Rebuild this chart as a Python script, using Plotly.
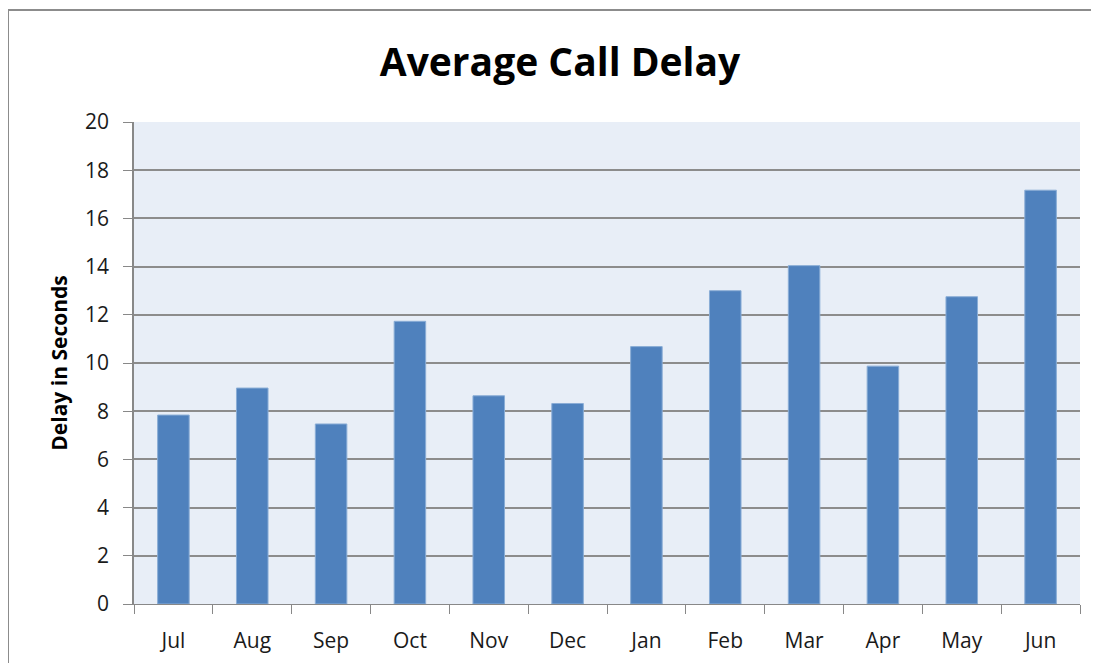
import plotly.graph_objects as go

months = ["Jul", "Aug", "Sep", "Oct", "Nov", "Dec", "Jan", "Feb", "Mar", "Apr", "May", "Jun"]
delay_seconds = [7.84, 8.96, 7.47, 11.73, 8.64, 8.32, 10.68, 13.0, 14.04, 9.87, 12.75, 17.17]
y_ticks = [0, 2, 4, 6, 8, 10, 12, 14, 16, 18, 20]

# page body has an 8px margin, so the figure is sized/placed to compensate
W, H = 1091, 655
ML, MR, MT, MB = 126, 19, 114, 59
pw, ph = W - ML - MR, H - MT - MB

fig = go.Figure(go.Bar(
    x=months, y=delay_seconds,
    marker=dict(color="#4F81BD", line=dict(color="#8AADD6", width=1)),
    hoverinfo="x+y",
))

fig.update_layout(
    width=W, height=H,
    margin=dict(l=ML, r=MR, t=MT, b=MB),
    paper_bgcolor="white", plot_bgcolor="#E8EEF7",
    bargap=0.6,
    showlegend=False,
    font=dict(family="Open Sans, Noto Sans, sans-serif", color="#1a1a1a"),
    title=dict(text="<b>Average Call Delay</b>", x=(560 - 8) / W, xanchor="center",
               y=1 - 54 / H, yanchor="middle",
               font=dict(size=39, color="black", family="Open Sans, sans-serif")),
)
fig.update_xaxes(
    showgrid=False, showline=True, linecolor="#888888", linewidth=1,
    ticks="outside", tickson="boundaries", ticklen=9, tickcolor="#888888",
    tickfont=dict(size=21), ticklabelstandoff=18, automargin=False,
)
fig.update_yaxes(
    range=[0, 20], tickvals=y_ticks, showgrid=True, gridcolor="#8C8C8C", gridwidth=1.5,
    showline=True, linecolor="#888888", linewidth=1.5,
    ticks="outside", ticklen=9, tickcolor="#888888",
    tickfont=dict(size=21), zeroline=False, ticklabelstandoff=10,
    title=dict(text="<b>Delay in Seconds</b>", font=dict(size=21, color="black"), standoff=12),
)

# outer chart frame
fx0 = (0 - ML) / pw
fy1 = (H - MB - 2) / ph
fig.add_shape(type="line", xref="paper", yref="paper", x0=fx0, x1=fx0, y0=-0.2, y1=fy1,
              line=dict(color="#8C8C8C", width=2))
fig.add_shape(type="line", xref="paper", yref="paper", x0=fx0, x1=1.1, y0=fy1, y1=fy1,
              line=dict(color="#8C8C8C", width=2))

fig.write_html("out.html")
